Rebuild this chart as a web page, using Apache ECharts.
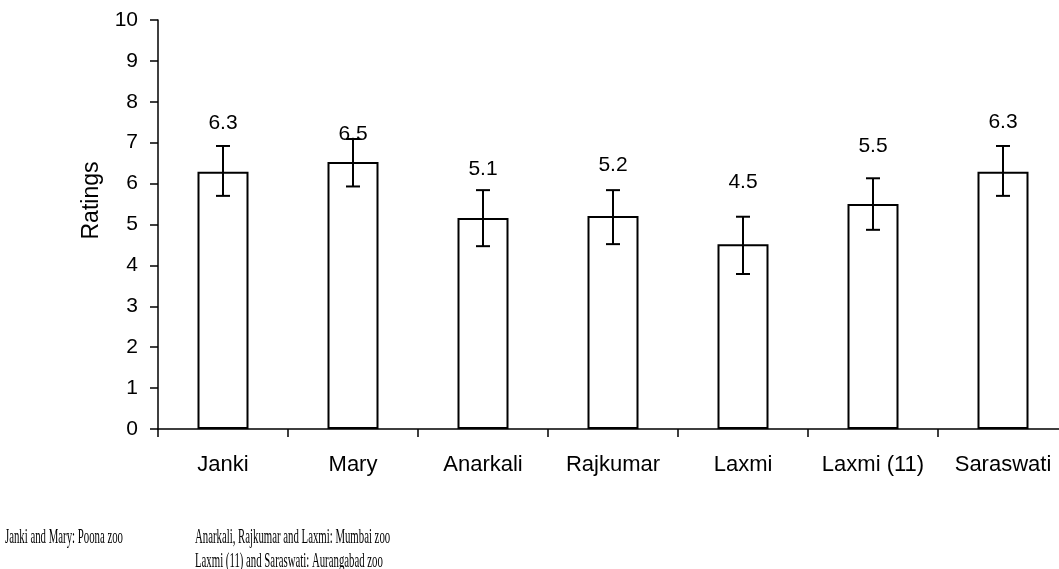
<!DOCTYPE html>
<html>
<head>
<meta charset="utf-8">
<script src="https://cdn.jsdelivr.net/npm/echarts@6/dist/echarts.min.js"></script>
<style>html,body{margin:0;padding:0;background:#fff}#c{width:1059px;height:569px}</style>
</head>
<body>
<div id="c"></div>
<script>
// ---- data ----
const categories = ['Janki', 'Mary', 'Anarkali', 'Rajkumar', 'Laxmi', 'Laxmi (11)', 'Saraswati'];
const ratings = [6.3, 6.5, 5.1, 5.2, 4.5, 5.5, 6.3];
const barHeights = [6.29, 6.53, 5.16, 5.21, 4.52, 5.50, 6.29];
const errLow = [5.70, 5.93, 4.47, 4.52, 3.79, 4.87, 5.70];
const errHigh = [6.92, 7.09, 5.84, 5.84, 5.19, 6.13, 6.92];
const yTicks = [0, 1, 2, 3, 4, 5, 6, 7, 8, 9, 10];
const footLeft = 'Janki and Mary: Poona zoo';
const footRight1 = 'Anarkali, Rajkumar and Laxmi: Mumbai zoo';
const footRight2 = 'Laxmi (11) and Saraswati: Aurangabad zoo';

// ---- styling (label lift above bar top, px) ----
const labelRaise = [38, 17, 38, 40, 51, 47, 39];

const font = 'Liberation Sans, Arial, sans-serif';
const serif = '"Liberation Serif", "Times New Roman", serif';
const chart = echarts.init(document.getElementById('c'));
chart.setOption({
  animation: false,
  backgroundColor: '#fff',
  grid: { left: 158, top: 20, height: 409, width: 910, containLabel: false, outerBoundsMode: 'none' },
  xAxis: {
    type: 'category',
    data: categories,
    axisLine: { lineStyle: { color: '#000', width: 1.5 } },
    axisTick: { show: true, length: 8, lineStyle: { color: '#000', width: 1.5 } },
    axisLabel: { color: '#000', fontFamily: font, fontSize: 22, margin: 25, interval: 0 }
  },
  yAxis: {
    type: 'value',
    min: yTicks[0], max: yTicks[yTicks.length - 1], interval: 1,
    name: 'Ratings',
    nameLocation: 'middle',
    nameGap: 55,
    nameTextStyle: { color: '#000', fontFamily: font, fontSize: 23, padding: [0, 0, 0, 48] },
    splitLine: { show: false },
    axisLine: { show: true, lineStyle: { color: '#000', width: 1.5 } },
    axisTick: { show: true, length: 8, lineStyle: { color: '#000', width: 1.5 } },
    axisLabel: { color: '#000', fontFamily: font, fontSize: 21, margin: 20 }
  },
  series: [
    {
      type: 'bar',
      barWidth: 51,
      data: barHeights.map((v, i) => ({
        value: v,
        label: {
          show: true, position: 'top', distance: labelRaise[i],
          formatter: () => ratings[i].toFixed(1),
          color: '#000', fontFamily: font, fontSize: 21
        }
      })),
      itemStyle: { color: '#fff', borderColor: '#000', borderWidth: 2 },
      z: 2
    },
    {
      type: 'custom',
      z: 5,
      data: categories.map((c, i) => [i, errLow[i], errHigh[i]]),
      renderItem: function (params, api) {
        const x = api.value(0);
        const lo = api.coord([x, api.value(1)]);
        const hi = api.coord([x, api.value(2)]);
        const cap = 7;
        const st = { stroke: '#000', lineWidth: 2 };
        return {
          type: 'group',
          children: [
            { type: 'line', shape: { x1: lo[0], y1: lo[1], x2: hi[0], y2: hi[1] }, style: st },
            { type: 'line', shape: { x1: lo[0] - cap, y1: lo[1], x2: lo[0] + cap, y2: lo[1] }, style: st },
            { type: 'line', shape: { x1: hi[0] - cap, y1: hi[1], x2: hi[0] + cap, y2: hi[1] }, style: st }
          ]
        };
      }
    }
  ],
  graphic: [
    { type: 'text', x: 5, y: 537, scaleX: 0.49, style: { text: footLeft, font: '22px ' + serif, fill: '#000', verticalAlign: 'middle' } },
    { type: 'text', x: 195, y: 537, scaleX: 0.49, style: { text: footRight1, font: '22px ' + serif, fill: '#000', verticalAlign: 'middle' } },
    { type: 'text', x: 195, y: 561, scaleX: 0.49, style: { text: footRight2, font: '22px ' + serif, fill: '#000', verticalAlign: 'middle' } }
  ]
});
</script>
</body>
</html>
